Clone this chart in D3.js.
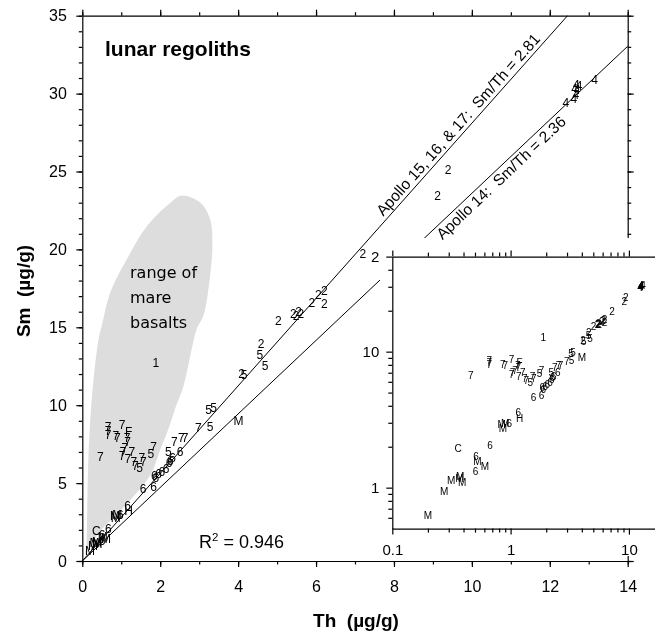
<!DOCTYPE html>
<html><head><meta charset="utf-8">
<script src="https://cdn.jsdelivr.net/npm/d3@7"></script>
<style>
body{margin:0;background:#fff}
svg{display:block;will-change:transform}
text{font-family:"Liberation Sans",Arial,sans-serif;fill:#000}
</style>
</head><body>
<svg id="c" width="655" height="637"></svg>
<script>
// ---------- data ----------
const pointLabels = ["M","M","M","M","M","M","6","M","M","6","C","6","M","M","M","6","6","H",
  "7","7","7","7","7","7","7","F","7","7","7","7","7","7","7","7","7","5","7","7","5","7",
  "1","6","6","6","6","6","6","6","5","6","6","6","6","7","7","7","7","5","M","5","5",
  "2","5","5","2","5","2","2","2","2","2","2","2","2","2","2","2","2",
  "4","4","4","4","4","4","4","4"];
const thValues = [0.20,0.275,0.315,0.37,0.39,0.375,0.505,0.523,0.607,0.51,0.36,0.67,0.84,0.86,0.90,0.975,1.16,1.19,
  0.46,0.66,0.66,0.66,0.86,0.90,1.02,1.19,1.15,1.16,1.09,1.04,1.27,1.02,1.17,1.32,1.36,1.47,1.53,1.57,1.76,1.83,
  1.89,1.56,1.83,1.85,1.89,1.96,2.04,2.15,2.21,2.26,2.32,2.23,2.51,2.36,2.54,2.64,2.98,3.28,4.01,3.24,3.37,
  4.09,4.15,4.56,4.59,4.69,5.03,5.42,5.55,5.61,5.49,5.89,6.06,6.21,6.21,7.2,9.12,9.39,
  12.41,12.62,12.67,12.64,12.70,12.68,12.75,13.15];
const smValues = [0.62,0.94,1.13,1.17,1.10,1.20,1.31,1.55,1.44,1.69,1.95,2.03,2.89,2.73,2.94,2.98,3.56,3.24,
  6.65,8.6,8.35,8.1,8.0,7.9,8.7,8.3,7.9,7.65,7.25,7.0,7.0,6.75,6.55,6.33,6.1,5.95,6.6,6.33,6.87,7.3,
  12.7,4.62,4.73,5.48,5.31,5.58,5.73,5.9,7.02,6.44,6.59,6.29,6.98,7.62,7.88,7.88,8.52,8.58,9.0,9.7,9.84,
  12.0,11.96,13.2,13.9,12.5,15.4,15.85,16.0,15.85,15.75,16.56,17.07,17.35,16.5,19.7,23.45,25.1,
  29.4,29.65,29.9,30.3,30.2,30.55,30.47,30.9];

// mare basalt field outline (Th, Sm)
const basaltTh = [2.54,3.03,3.28,3.34,3.28,3.11,2.94,2.6,2.38,2.21,2.04,1.74,1.30,0.85,0.51,0.26,0.09,
  0.11,0.12,0.14,0.19,0.29,0.42,0.5,0.72,1.15,1.66,2.26];
const basaltSm = [23.45,23.0,21.95,20.35,18.3,15.75,14.9,11.25,9.76,8.47,7.4,5.48,4.1,2.9,2.05,1.2,0.4,
  1.2,2.27,5.26,8.47,11.7,14.25,15.1,17.25,19.4,21.5,23.0];

const ratios = [2.81, 2.36];
const ratioLabels = ["Apollo 15, 16, & 17:  Sm/Th = 2.81", "Apollo 14:  Sm/Th = 2.36"];

const mainXTicks = [0,2,4,6,8,10,12,14];
const mainYTicks = [0,5,10,15,20,25,30,35];
const insetXTicks = [0.1,1,10];
const insetXTickLabels = ["0.1","1","10"];
const insetYTicks = [1,10,50];
const insetYTickLabels = ["1","10","2"];
const rSquared = "0.946";

// ---------- scales ----------
const svg = d3.select("#c");
const x = d3.scaleLinear().domain([0,14]).range([82.3,627.7]);
const y = d3.scaleLinear().domain([0,35]).range([561,15.7]);
const xi = d3.scaleLog().domain([0.1,20]).range([392.3, 392.3+118.3*Math.log10(200)]);
const yi = d3.scaleLog().domain([0.5,50]).range([528.6,256.6]);

const pts = d3.range(pointLabels.length).map(i=>({l:pointLabels[i],th:thValues[i],sm:smValues[i]}));

// ---------- basalt field ----------
svg.append("path")
  .datum(d3.zip(basaltTh,basaltSm))
  .attr("d", d3.line().x(d=>x(d[0])).y(d=>y(d[1])).curve(d3.curveCatmullRomClosed))
  .attr("fill","#dddddd");

// ---------- ratio lines ----------
ratios.forEach(r=>{
  const te = Math.min(14, 35/r);
  svg.append("line").attr("x1",x(0)).attr("y1",y(0)).attr("x2",x(te)).attr("y2",y(te*r))
    .attr("stroke","#000").attr("stroke-width",1);
});

// ---------- main points ----------
svg.append("g").selectAll("text").data(pts).join("text")
  .attr("x",d=>x(d.th)).attr("y",d=>y(d.sm))
  .attr("text-anchor","middle").attr("dominant-baseline","central")
  .attr("font-size",12).text(d=>d.l);

// ---------- main axes ----------
function styleAxis(g, fs){
  g.selectAll("path,line").attr("stroke","#000").attr("stroke-width",1.2);
  g.selectAll("text").attr("font-size",fs).attr("font-family","Liberation Sans, Arial, sans-serif").attr("fill","#000");
}
const ints = d3.range(0,15);
const yints = d3.range(0,36);
let g = svg.append("g").attr("transform",`translate(0,${y(0)})`)
  .call(d3.axisBottom(x).tickValues(ints).tickSize(3.5).tickSizeOuter(0).tickFormat(""));
styleAxis(g,16);
g = svg.append("g").attr("transform",`translate(0,${y(0)})`)
  .call(d3.axisBottom(x).tickValues(mainXTicks).tickSize(6).tickPadding(14).tickFormat(d3.format("d")));
g.select(".domain").remove(); styleAxis(g,16);
g = svg.append("g").attr("transform",`translate(0,${y(35)})`)
  .call(d3.axisTop(x).tickValues(ints).tickSize(3.5).tickSizeOuter(0).tickFormat(""));
styleAxis(g,16);
g = svg.append("g").attr("transform",`translate(0,${y(35)})`)
  .call(d3.axisTop(x).tickValues(mainXTicks).tickSize(6).tickFormat(""));
g.select(".domain").remove(); styleAxis(g,16);
g = svg.append("g").attr("transform",`translate(${x(0)},0)`)
  .call(d3.axisLeft(y).tickValues(yints).tickSize(3.5).tickSizeOuter(0).tickFormat(""));
styleAxis(g,16);
g = svg.append("g").attr("transform",`translate(${x(0)},0)`)
  .call(d3.axisLeft(y).tickValues(mainYTicks).tickSize(6).tickPadding(9.5).tickFormat(d3.format("d")));
g.select(".domain").remove(); styleAxis(g,16);
g = svg.append("g").attr("transform",`translate(${x(14)},0)`)
  .call(d3.axisRight(y).tickValues(yints).tickSize(3.5).tickSizeOuter(0).tickFormat(""));
styleAxis(g,16);
g = svg.append("g").attr("transform",`translate(${x(14)},0)`)
  .call(d3.axisRight(y).tickValues(mainYTicks).tickSize(6).tickFormat(""));
g.select(".domain").remove(); styleAxis(g,16);

// ---------- inset background ----------
svg.append("rect").attr("x",380).attr("y",238).attr("width",275).attr("height",318).attr("fill","#fff");

// ---------- ratio line labels ----------
const lblTh = [7.8, 9.0];
const lblDy = [-4, 14];
ratios.forEach((r,i)=>{
  const ang = Math.atan2(y(0)-y(r), x(1)-x(0))*180/Math.PI;
  svg.append("text")
    .attr("transform",`translate(${x(lblTh[i])},${y(lblTh[i]*r)}) rotate(${-ang})`)
    .attr("dy",lblDy[i]).attr("font-size",15.5)
    .style("white-space","pre").text(ratioLabels[i]);
});

// ---------- inset axes ----------
const xMinor = [0.2,0.3,0.4,0.5,0.6,0.7,0.8,0.9,2,3,4,5,6,7,8,9,20];
const yMinor = [0.6,0.7,0.8,0.9,2,3,4,5,6,7,8,9,20,30,40];
g = svg.append("g").attr("transform",`translate(0,${yi(0.5)})`)
  .call(d3.axisBottom(xi).tickValues(xMinor).tickSize(4).tickSizeOuter(0).tickFormat(""));
styleAxis(g,15);
g = svg.append("g").attr("transform",`translate(0,${yi(0.5)})`)
  .call(d3.axisBottom(xi).tickValues(insetXTicks).tickSize(6).tickPadding(10)
    .tickFormat((d,i)=>insetXTickLabels[i]));
g.select(".domain").remove(); styleAxis(g,15);
g = svg.append("g").attr("transform",`translate(0,${yi(50)})`)
  .call(d3.axisTop(xi).tickValues(xMinor).tickSize(4).tickSizeOuter(0).tickFormat(""));
styleAxis(g,15);
g = svg.append("g").attr("transform",`translate(0,${yi(50)})`)
  .call(d3.axisTop(xi).tickValues(insetXTicks).tickSize(6).tickFormat(""));
g.select(".domain").remove(); styleAxis(g,15);
g = svg.append("g").attr("transform",`translate(${xi(0.1)},0)`)
  .call(d3.axisLeft(yi).tickValues(yMinor).tickSize(4).tickSizeOuter(0).tickFormat(""));
styleAxis(g,15);
g = svg.append("g").attr("transform",`translate(${xi(0.1)},0)`)
  .call(d3.axisLeft(yi).tickValues(insetYTicks).tickSize(6).tickPadding(7)
    .tickFormat((d,i)=>insetYTickLabels[i]));
g.select(".domain").remove(); styleAxis(g,15);

// ---------- inset points ----------
svg.append("g").selectAll("text").data(pts).join("text")
  .attr("x",d=>xi(d.th)).attr("y",d=>yi(d.sm))
  .attr("text-anchor","middle").attr("dominant-baseline","central")
  .attr("font-size",10).text(d=>d.l);

// ---------- annotations ----------
svg.append("text").attr("x",105).attr("y",56).attr("font-size",21).attr("font-weight","bold").text("lunar regoliths");
const basaltLines = ["range of","mare","basalts"];
basaltLines.forEach((t,i)=>svg.append("text").attr("x",130).attr("y",278+i*25)
  .attr("font-size",16).style("font-family","'Comic Sans MS','DejaVu Sans',sans-serif").text(t));
const r2 = svg.append("text").attr("x",199).attr("y",548).attr("font-size",18);
r2.append("tspan").text("R");
r2.append("tspan").attr("font-size",11.5).attr("dy",-7.5).text("2");
r2.append("tspan").attr("dy",7.5).text(" = " + rSquared);

svg.append("text").attr("x",356).attr("y",627).attr("text-anchor","middle")
  .attr("font-size",19).attr("font-weight","bold").style("white-space","pre").text("Th  (µg/g)");
svg.append("text").attr("transform","translate(30,291) rotate(-90)").attr("text-anchor","middle")
  .attr("font-size",19).attr("font-weight","bold").style("white-space","pre").text("Sm  (µg/g)");
</script>
</body></html>
